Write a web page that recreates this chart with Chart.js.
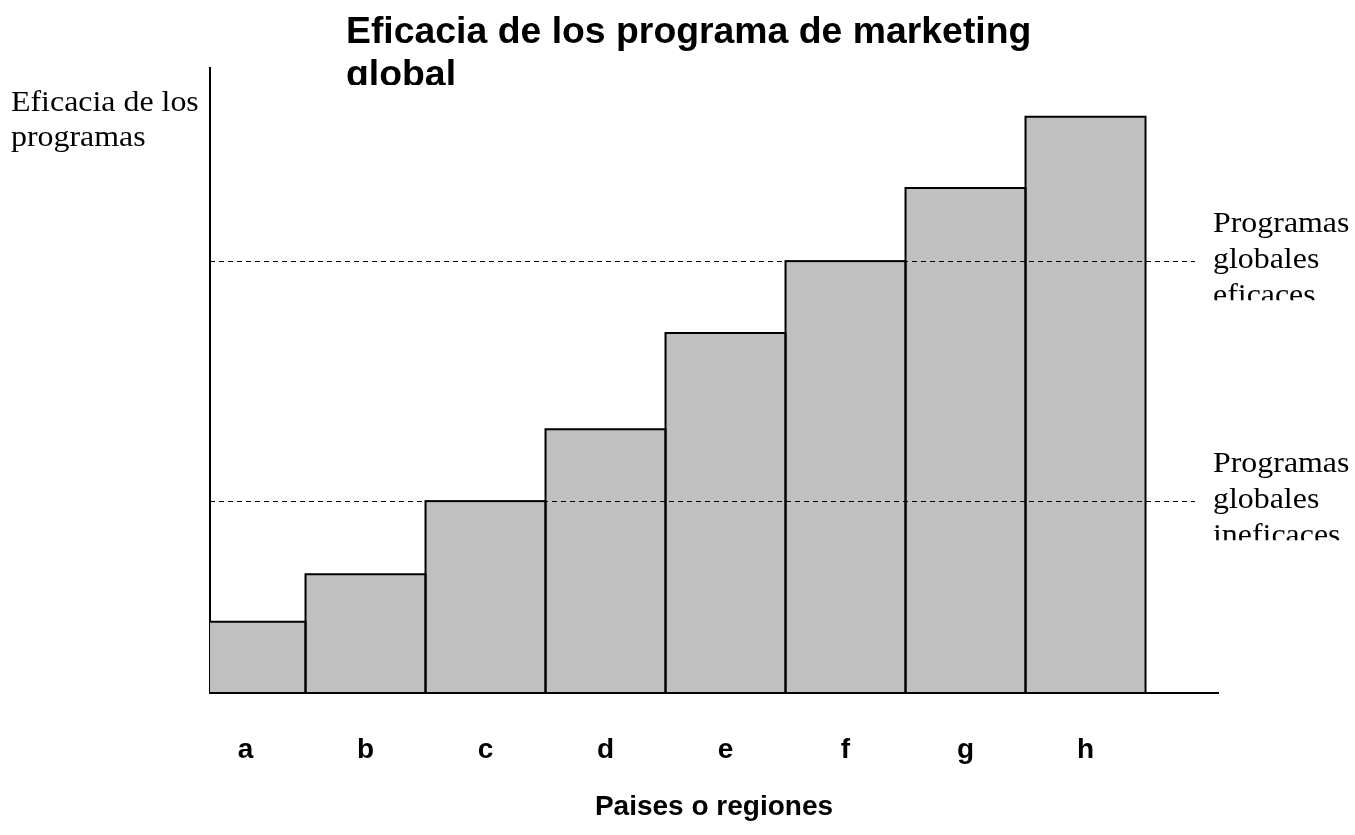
<!DOCTYPE html>
<html lang="es">
<head>
    <meta charset="UTF-8">
    <title>Eficacia de los programa de marketing global</title>
    <script src="https://cdn.jsdelivr.net/npm/chart.js"></script>
    <style>
        html, body { margin: 0; padding: 0; background: #fff; }
        #wrap { width: 1355px; height: 835px; }
    </style>
</head>
<body>
    <div id="wrap"><canvas id="chart" width="1355" height="835"></canvas></div>
    <script>
    // Datos (escala arbitraria 0-100)
    const categories = ['a', 'b', 'c', 'd', 'e', 'f', 'g', 'h'];
    const efficacy = [11.4, 19.0, 30.7, 42.2, 57.6, 69.1, 80.8, 92.2];
    const thresholds = [69.1, 30.7];
    const thresholdLabels = [
        ['Programas', 'globales', 'eficaces'],
        ['Programas', 'globales', 'ineficaces']
    ];
    const titleLines = ['Eficacia de los programa de marketing', 'global'];
    const yTitleLines = ['Eficacia de los', 'programas'];
    const xTitle = 'Paises o regiones';

    const STRETCH = 1.1;

    function stretchedText(ctx, text, x, y, sx) {
        ctx.save();
        ctx.translate(x, y);
        ctx.scale(sx, 1);
        ctx.fillText(text, 0, 0);
        ctx.restore();
    }

    const annotations = {
        id: 'annotations',
        afterDatasetsDraw(chart) {
            const { ctx, chartArea, scales } = chart;
            ctx.save();
            // contorno de las barras (trazo centrado en los bordes)
            ctx.beginPath();
            ctx.rect(chartArea.left, 0, chart.width, chartArea.bottom + 2);
            ctx.clip();
            ctx.strokeStyle = '#000';
            ctx.lineWidth = 2;
            chart.getDatasetMeta(0).data.forEach(bar => {
                const left = bar.x - bar.width / 2;
                ctx.strokeRect(left, bar.y, bar.width, bar.base - bar.y);
            });
            ctx.restore();

            ctx.save();
            // lineas discontinuas de umbral
            ctx.strokeStyle = '#000';
            ctx.lineWidth = 1;
            ctx.setLineDash([5, 4]);
            thresholds.forEach(v => {
                const y = Math.round(scales.y.getPixelForValue(v)) + 0.5;
                ctx.beginPath();
                ctx.moveTo(chartArea.left, y);
                ctx.lineTo(chartArea.right - 23, y);
                ctx.stroke();
            });
            ctx.restore();
        },
        afterDraw(chart) {
            const { ctx, chartArea, scales } = chart;
            ctx.save();
            ctx.fillStyle = '#000';
            ctx.textBaseline = 'alphabetic';
            ctx.textAlign = 'left';

            // etiquetas a la derecha (recortadas abajo como en el original)
            ctx.font = '29px "Liberation Serif", "Times New Roman", serif';
            thresholds.forEach((v, i) => {
                const y = scales.y.getPixelForValue(v);
                ctx.save();
                ctx.beginPath();
                ctx.rect(chartArea.right - 10, y - 70, 200, 109);
                ctx.clip();
                thresholdLabels[i].forEach((t, k) => {
                    stretchedText(ctx, t, chartArea.right - 5, y - 29 + k * 36, STRETCH);
                });
                ctx.restore();
            });

            // titulo del eje y
            yTitleLines.forEach((t, k) => {
                stretchedText(ctx, t, 11, 111 + k * 35, STRETCH);
            });

            // titulo (segunda linea cortada)
            ctx.font = 'bold 37px "Liberation Sans", Arial, sans-serif';
            ctx.save();
            ctx.beginPath();
            ctx.rect(0, 0, chart.width, 85);
            ctx.clip();
            titleLines.forEach((t, k) => {
                stretchedText(ctx, t, 346, 43 + k * 43, 1.01);
            });
            ctx.restore();
            ctx.restore();
        }
    };

    const points = efficacy.map((v, i) => ({ x: i + 1, y: v }));

    new Chart(document.getElementById('chart'), {
        type: 'bar',
        data: {
            datasets: [{
                data: points,
                backgroundColor: '#c0c0c0',
                borderWidth: 0,
                barPercentage: 1,
                categoryPercentage: 1
            }]
        },
        options: {
            responsive: false,
            animation: false,
            events: [],
            layout: { padding: { left: 210, right: 137, top: 68, bottom: 0 } },
            plugins: {
                legend: { display: false },
                tooltip: { enabled: false }
            },
            scales: {
                x: {
                    type: 'linear',
                    offset: false,
                    min: 0.704,
                    max: 9.104,
                    grid: { display: false, drawTicks: false, offset: false },
                    border: { display: true, color: '#000', width: 2 },
                    afterBuildTicks: s => { s.ticks = categories.map((c, i) => ({ value: i + 1 })); },
                    afterFit: s => { s.height = 142; },
                    ticks: {
                        autoSkip: false,
                        maxRotation: 0,
                        padding: 40,
                        color: '#000',
                        font: { family: '"Liberation Sans", Arial, sans-serif', size: 28, weight: 'bold' },
                        callback: v => categories[v - 1]
                    },
                    title: {
                        display: true,
                        text: xTitle,
                        color: '#000',
                        padding: { top: 0, bottom: 11 },
                        font: { family: '"Liberation Sans", Arial, sans-serif', size: 28, weight: 'bold' }
                    }
                },
                y: {
                    min: 0,
                    max: 100,
                    grid: { display: false, drawTicks: false },
                    border: { display: true, color: '#000', width: 2 },
                    ticks: { display: false },
                    afterFit: s => { s.width = 0; }
                }
            }
        },
        plugins: [annotations]
    });
    </script>
</body>
</html>
